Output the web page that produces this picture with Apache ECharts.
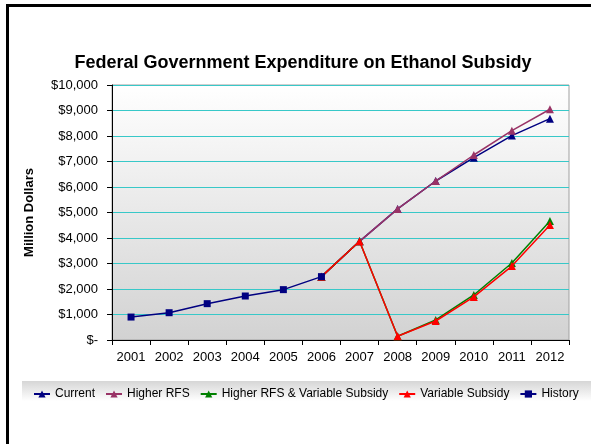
<!DOCTYPE html>
<html>
<head>
<meta charset="utf-8">
<script src="https://cdn.jsdelivr.net/npm/echarts@6/dist/echarts.min.js"></script>
<style>
html,body{margin:0;padding:0;background:#fff;}
#chart{width:591px;height:444px;}
</style>
</head>
<body>
<div id="chart"></div>
<script>
var years = ['2001','2002','2003','2004','2005','2006','2007','2008','2009','2010','2011','2012'];
var historyVals = [900, 1070, 1425, 1725, 1975, 2485, null, null, null, null, null, null];
var currentVals = [null, null, null, null, null, 2485, 3870, 5140, 6235, 7150, 8015, 8680];
var higherRFSVals = [null, null, null, null, null, 2485, 3870, 5140, 6235, 7255, 8210, 9050];
var higherRFSVarVals = [null, null, null, null, null, 2485, 3870, 145, 785, 1765, 3020, 4665];
var variableSubsidyVals = [null, null, null, null, null, 2485, 3870, 145, 745, 1690, 2900, 4510];
var yTicks = [0, 1000, 2000, 3000, 4000, 5000, 6000, 7000, 8000, 9000, 10000];

var FONT = '"Liberation Sans", Arial, sans-serif';
var chart = echarts.init(document.getElementById('chart'), null, {renderer: 'canvas'});

function fmt(v) {
  if (v === 0) return '$-';
  return '$' + String(v).replace(/\B(?=(\d{3})+(?!\d))/g, ',');
}

function mk(name, data, color, symbol, z) {
  return {
    name: name, type: 'line', data: data, z: z,
    symbol: symbol, symbolSize: symbol === 'rect' ? 7 : 8,
    connectNulls: false,
    lineStyle: {color: color, width: 1.5},
    itemStyle: {color: color},
    emphasis: {disabled: true},
    animation: false
  };
}

chart.setOption({
  animation: false,
  textStyle: {fontFamily: FONT},
  graphic: [
    {type: 'rect', left: 22, top: 381, shape: {width: 569, height: 20}, z: -1,
     style: {fill: {type: 'linear', x: 0, y: 0, x2: 0, y2: 1,
       colorStops: [{offset: 0, color: '#d6d6d6'}, {offset: 1, color: '#ffffff'}]}}},
    {type: 'rect', shape: {x: 7.5, y: 5.5, width: 620, height: 480}, z: 100,
     style: {fill: 'none', stroke: '#000', lineWidth: 3}}
  ],
  title: {
    text: 'Federal Government Expenditure on Ethanol Subsidy',
    left: 298, top: 49, textAlign: 'center',
    textStyle: {fontFamily: FONT, fontSize: 18, fontWeight: 'bold', color: '#000'}
  },
  legend: {
    left: 28, top: 383, itemWidth: 16, itemHeight: 9, itemGap: 10,
    textStyle: {fontFamily: FONT, fontSize: 12, color: '#000'},
    data: ['Current', 'Higher RFS', 'Higher RFS & Variable Subsidy', 'Variable Subsidy', 'History']
  },
  grid: {
    left: 112, right: 22, top: 85, bottom: 104,
    show: true, borderColor: '#a0a0a0', borderWidth: 1,
    backgroundColor: {type: 'linear', x: 0, y: 0, x2: 0, y2: 1,
      colorStops: [{offset: 0, color: '#ffffff'}, {offset: 1, color: '#d2d2d2'}]}
  },
  xAxis: {
    type: 'category', data: years, boundaryGap: true,
    axisLine: {lineStyle: {color: '#000', width: 1}},
    axisTick: {show: true, alignWithLabel: false, length: 5, lineStyle: {color: '#000'}},
    axisLabel: {color: '#000', fontSize: 13, fontFamily: FONT, margin: 11},
    splitLine: {show: false}
  },
  yAxis: {
    type: 'value', min: yTicks[0], max: yTicks[yTicks.length - 1], interval: 1000,
    name: 'Million Dollars', nameLocation: 'middle', nameRotate: 90, nameGap: 76,
    nameTextStyle: {fontFamily: FONT, fontSize: 13, fontWeight: 'bold', color: '#000'},
    axisLine: {show: true, lineStyle: {color: '#000', width: 1}},
    axisTick: {show: true, inside: false, length: 5, lineStyle: {color: '#000'}},
    axisLabel: {color: '#000', fontSize: 13, fontFamily: FONT, margin: 14, formatter: fmt},
    splitLine: {show: true, lineStyle: {color: '#38c8c8', width: 1}}
  },
  series: [
    mk('Current', currentVals, '#000080', 'triangle', 2),
    mk('Higher RFS', higherRFSVals, '#993366', 'triangle', 3),
    mk('Higher RFS & Variable Subsidy', higherRFSVarVals, '#008000', 'triangle', 4),
    mk('Variable Subsidy', variableSubsidyVals, '#ff0000', 'triangle', 5),
    mk('History', historyVals, '#000080', 'rect', 6)
  ]
});
</script>
</body>
</html>
